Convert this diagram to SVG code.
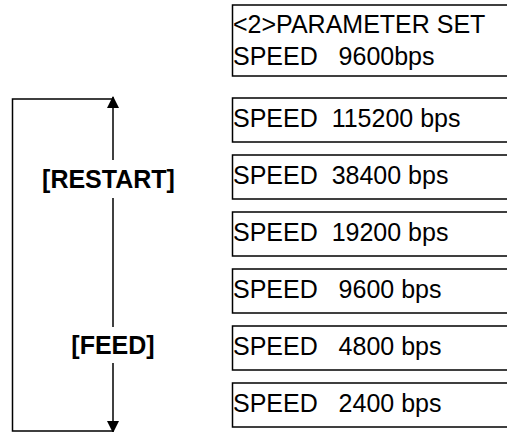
<svg xmlns="http://www.w3.org/2000/svg" width="507" height="432" viewBox="0 0 507 432">
<style>
.box{fill:none;stroke:#000;stroke-width:1.5}
.t{font-family:"Liberation Sans",Arial,sans-serif;font-size:25px;fill:#000}
.lbl{font-family:"Liberation Sans",Arial,sans-serif;font-size:25px;font-weight:bold;fill:#000}
.ln{fill:none;stroke:#000;stroke-width:1.5}
</style>
<defs>
<marker id="ah" markerWidth="12" markerHeight="12" refX="11" refY="6" orient="auto" markerUnits="userSpaceOnUse">
<path d="M0,0 L12,6 L0,12 Z" fill="#000"/>
</marker>
</defs>
<rect width="507" height="432" fill="#fff"/>
<g id="n0"><rect class="box" x="232.5" y="5" width="280" height="71"/><text class="t" x="233" y="33">&lt;2&gt;PARAMETER SET</text><text class="t" x="233" y="65" xml:space="preserve">SPEED   9600bps</text></g>
<g id="n1"><rect class="box" x="232.5" y="98" width="280" height="44"/><text class="t" x="233" y="127" xml:space="preserve">SPEED  115200 bps</text></g>
<g id="n2"><rect class="box" x="232.5" y="155" width="280" height="44"/><text class="t" x="233" y="184" xml:space="preserve">SPEED  38400 bps</text></g>
<g id="n3"><rect class="box" x="232.5" y="212" width="280" height="44"/><text class="t" x="233" y="241" xml:space="preserve">SPEED  19200 bps</text></g>
<g id="n4"><rect class="box" x="232.5" y="269" width="280" height="44"/><text class="t" x="233" y="298" xml:space="preserve">SPEED   9600 bps</text></g>
<g id="n5"><rect class="box" x="232.5" y="326" width="280" height="44"/><text class="t" x="233" y="355" xml:space="preserve">SPEED   4800 bps</text></g>
<g id="n6"><rect class="box" x="232.5" y="383" width="280" height="44"/><text class="t" x="233" y="412" xml:space="preserve">SPEED   2400 bps</text></g>
<g id="connectors">
<polyline class="ln" points="113,99 12.5,99 12.5,431 113,431"/>
<line class="ln" x1="113" y1="160" x2="113" y2="97" marker-end="url(#ah)"/>
<line class="ln" x1="113" y1="198" x2="113" y2="327"/>
<line class="ln" x1="113" y1="363" x2="113" y2="432" marker-end="url(#ah)"/>
<text class="lbl" x="108.5" y="188" text-anchor="middle">[RESTART]</text>
<text class="lbl" x="113" y="354" text-anchor="middle">[FEED]</text>
</g>
</svg>
